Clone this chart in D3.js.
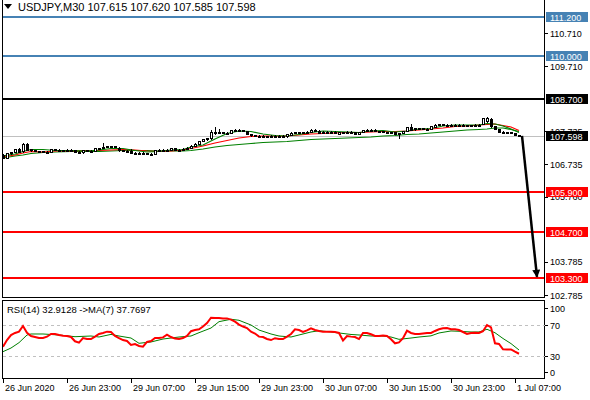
<!DOCTYPE html>
<html>
<head>
<meta charset="utf-8">
<script src="https://cdn.jsdelivr.net/npm/d3@7"></script>
<style>
body { margin: 0; background: #fff; }
text { font-family: "Liberation Sans", Arial, sans-serif; font-size: 9px; fill: #000; }
</style>
</head>
<body>
<div id="chart"></div>
<script>
// Data
var title = "USDJPY,M30  107.615 107.620 107.585 107.598";

// one M30 bar per entry: [open, high, low, close]
var candles = [
  [107.020,107.035,106.930,106.944],[106.935,107.090,106.925,107.080],[107.075,107.120,107.060,107.110],[107.110,107.210,107.100,107.201],
  [107.190,107.231,107.115,107.125],[107.130,107.383,107.120,107.352],[107.352,107.370,107.180,107.186],[107.190,107.205,107.150,107.156],
  [107.160,107.175,107.130,107.141],[107.141,107.155,107.115,107.125],[107.130,107.145,107.100,107.110],[107.115,107.130,107.100,107.105],
  [107.110,107.205,107.100,107.201],[107.195,107.205,107.160,107.171],[107.175,107.195,107.145,107.156],[107.160,107.185,107.150,107.171],
  [107.160,107.200,107.150,107.186],[107.186,107.200,107.150,107.156],[107.160,107.175,107.100,107.110],[107.115,107.130,107.095,107.105],
  [107.105,107.180,107.095,107.171],[107.171,107.185,107.135,107.141],[107.145,107.160,107.130,107.141],[107.141,107.240,107.130,107.231],
  [107.200,107.245,107.190,107.231],[107.231,107.383,107.220,107.262],[107.262,107.300,107.250,107.292],[107.292,107.305,107.265,107.277],
  [107.277,107.290,107.250,107.262],[107.240,107.250,107.150,107.156],[107.160,107.175,107.130,107.141],[107.145,107.165,107.130,107.141],
  [107.145,107.201,107.070,107.080],[107.090,107.110,107.060,107.075],[107.080,107.100,107.060,107.070],[107.070,107.100,107.055,107.090],
  [107.085,107.095,107.040,107.050],[107.055,107.070,107.035,107.045],[107.060,107.180,107.050,107.171],[107.171,107.195,107.160,107.186],
  [107.186,107.200,107.150,107.156],[107.160,107.195,107.150,107.186],[107.175,107.240,107.165,107.231],[107.225,107.240,107.160,107.171],
  [107.171,107.195,107.160,107.186],[107.180,107.225,107.170,107.216],[107.210,107.255,107.200,107.246],[107.240,107.315,107.230,107.307],
  [107.300,107.375,107.290,107.367],[107.360,107.450,107.350,107.443],[107.440,107.515,107.430,107.504],[107.500,107.545,107.480,107.534],
  [107.530,107.776,107.500,107.715],[107.715,107.867,107.670,107.685],[107.690,107.806,107.680,107.715],[107.715,107.730,107.675,107.685],
  [107.685,107.715,107.670,107.700],[107.700,107.790,107.690,107.776],[107.776,107.800,107.765,107.791],[107.791,107.805,107.750,107.761],
  [107.761,107.775,107.735,107.746],[107.746,107.760,107.640,107.655],[107.655,107.670,107.600,107.610],[107.615,107.630,107.585,107.595],
  [107.595,107.615,107.580,107.600],[107.600,107.615,107.575,107.590],[107.590,107.605,107.550,107.564],[107.564,107.610,107.555,107.595],
  [107.595,107.610,107.575,107.590],[107.590,107.610,107.575,107.600],[107.600,107.615,107.565,107.579],[107.585,107.650,107.575,107.640],
  [107.635,107.710,107.625,107.700],[107.690,107.725,107.680,107.715],[107.715,107.730,107.690,107.700],[107.700,107.720,107.685,107.705],
  [107.705,107.740,107.695,107.730],[107.720,107.800,107.710,107.791],[107.785,107.800,107.735,107.746],[107.760,107.775,107.690,107.700],
  [107.705,107.740,107.695,107.730],[107.730,107.745,107.690,107.700],[107.705,107.740,107.695,107.730],[107.730,107.745,107.715,107.725],
  [107.670,107.725,107.660,107.715],[107.715,107.730,107.700,107.710],[107.710,107.740,107.700,107.730],[107.730,107.740,107.705,107.715],
  [107.715,107.730,107.645,107.655],[107.660,107.725,107.650,107.715],[107.715,107.790,107.705,107.776],[107.776,107.800,107.765,107.791],
  [107.791,107.805,107.775,107.785],[107.780,107.795,107.735,107.746],[107.746,107.760,107.730,107.740],[107.740,107.755,107.705,107.715],
  [107.715,107.730,107.700,107.710],[107.710,107.725,107.695,107.715],[107.715,107.730,107.645,107.655],[107.655,107.695,107.534,107.685],
  [107.685,107.755,107.675,107.746],[107.760,107.880,107.750,107.867],[107.867,107.957,107.780,107.791],[107.800,107.845,107.790,107.836],
  [107.836,107.850,107.820,107.830],[107.830,107.845,107.795,107.806],[107.806,107.835,107.795,107.821],[107.806,107.910,107.795,107.897],
  [107.880,107.955,107.870,107.942],[107.935,107.970,107.925,107.957],[107.957,107.970,107.930,107.942],[107.942,107.955,107.915,107.927],
  [107.927,107.955,107.915,107.942],[107.930,107.955,107.920,107.942],[107.942,107.955,107.915,107.927],[107.927,107.945,107.910,107.925],
  [107.925,107.940,107.885,107.897],[107.897,107.935,107.885,107.927],[107.927,107.945,107.915,107.930],[107.930,107.955,107.920,107.942],
  [107.960,108.135,107.950,108.124],[108.040,108.170,108.030,108.154],[108.109,108.125,107.870,107.882],[107.882,107.895,107.795,107.806],
  [107.806,107.820,107.715,107.730],[107.730,107.745,107.690,107.700],[107.715,107.730,107.690,107.700],[107.700,107.720,107.685,107.705],
  [107.685,107.700,107.615,107.625],[107.615,107.620,107.585,107.598]
];

// moving averages on the price chart, sampled at these bars
var maBars = [0,3,5,7,10,13,17,21,24,27,30,33,36,39,42,45,47,50,53,56,59,62,65,68,71,74,77,80,83,86,89,92,95,98,101,104,107,110,113,116,119,121,123,125,127,129];
var maFast = [106.990,107.050,107.125,107.186,107.186,107.156,107.156,107.141,107.171,107.216,107.216,107.156,107.110,107.125,107.171,107.186,107.262,107.322,107.504,107.670,
  107.746,107.730,107.655,107.610,107.595,107.640,107.700,107.746,107.730,107.715,107.700,107.746,107.761,107.715,107.746,107.806,107.821,107.897,107.927,107.927,
  107.927,107.972,107.957,107.897,107.806,107.700];
var maMid = [106.959,107.020,107.080,107.125,107.110,107.141,107.141,107.156,107.156,107.171,107.186,107.171,107.141,107.125,107.141,107.171,107.216,107.292,107.383,107.458,
  107.534,107.579,107.595,107.595,107.595,107.625,107.655,107.670,107.685,107.700,107.700,107.715,107.730,107.730,107.746,107.776,107.806,107.836,107.882,107.897,
  107.927,107.942,107.957,107.912,107.867,107.761];
var maSlow = [106.929,106.990,107.020,107.065,107.095,107.110,107.125,107.125,107.125,107.141,107.156,107.156,107.156,107.141,107.141,107.141,107.156,107.201,107.262,107.307,
  107.337,107.367,107.398,107.413,107.428,107.458,107.488,107.504,107.519,107.534,107.549,107.564,107.595,107.610,107.640,107.655,107.685,107.715,107.746,107.776,
  107.791,107.806,107.836,107.836,107.791,107.730];

// RSI(14), one value per bar
var rsi = [42,50.6,57,59.7,61.4,68.7,60,55.8,54.5,53.2,
  53.2,54.9,58.4,58.4,57.1,56,55.8,54.5,49,47.2,
  53.2,51.9,51.9,55,58.4,59.7,61.4,61,56,53.2,
  50.6,49.4,44.2,45.5,43,42,48.1,49.4,53.2,53.2,
  54,57.5,54.5,52.5,51.9,53.2,55.8,62,63.5,64.5,
  68,72.6,79.4,79,79,78.5,78.5,77,74.3,70.5,
  68,66.1,61.4,59,55,54.5,52,50.6,53,52,
  51.9,55,58.4,64.5,63.5,61,63,65.7,63.5,62.3,
  61.4,61.4,61.4,61,59.7,50,55.8,55,54.5,51.9,
  59.7,59.7,58,55.8,55.8,56.5,55.8,51.5,46.4,47.5,
  53,62.6,59.7,58.4,58.4,59,59.7,59.7,62.3,64.5,
  65.7,66,64.5,64.5,63.5,61,58.4,59.7,60,59.7,
  62,70,67,46.4,45.5,38.6,38.4,38.4,35.5,32.9];
// MA(7) of RSI: [bar, value]
var rsiMa = [[0,35.6],[2,40.3],[4,47.2],[6,57.1],[7,58.4],[10,58.4],[14,57.1],[18,54.9],[22,55.8],[24,54.5],[27,57.9],[29,55.8],
  [32,53.2],[34,46.4],[37,48.1],[40,51.9],[44,54.5],[47,55.8],[49,60.1],[52,66.1],[54,74.3],[57,77.4],[59,76.1],[60,74],[62,70],
  [64,63.5],[67,58.4],[69,55.8],[72,54.5],[74,57.1],[77,61],[79,62.6],[82,61],[84,59.7],[87,57.8],[89,57.1],[92,55.8],[95,55.8],
  [97,54.5],[99,51.5],[102,53.2],[104,54.5],[107,56],[109,59.7],[112,62.3],[114,61.9],[117,61],[119,61],[121,64.5],[123,60],
  [125,52.6],[127,46],[129,37.77]];

// visible price-scale ticks (two more sit fully under the 108.700 / 104.700 boxes)
var priceTicks = [110.710, 109.710, 107.735, 106.735, 105.760, 103.785, 102.785];
var levels = [
  {price: 111.200, color: "#4682B4", label: "111.200"},
  {price: 110.000, color: "#4682B4", label: "110.000"},
  {price: 108.700, color: "#000000", label: "108.700"},
  {price: 105.900, color: "#FF0000", label: "105.900"},
  {price: 104.700, color: "#FF0000", label: "104.700"},
  {price: 103.300, color: "#FF0000", label: "103.300"}
];
var lastPrice = 107.598;
var arrowTarget = 103.300;
var timeBars = [0,16,32,48,64,80,96,112,128];
var timeLabels = ["26 Jun 2020","26 Jun 23:00","29 Jun 07:00","29 Jun 15:00","29 Jun 23:00","30 Jun 07:00","30 Jun 15:00","30 Jun 23:00","1 Jul 07:00"];
var rsiTicks = [100, 70, 30, 0];
var rsiLevels = [70, 30];

// Sizing
var svgWidth = 590, svgHeight = 400;
var plotLeft = 3, plotRight = 545;
var mainTop = 0, mainBottom = 298;
var rsiTop = 300, rsiBottom = 378;

var svg = d3.select("#chart").append("svg")
  .attr("width", svgWidth)
  .attr("height", svgHeight)
  .style("display", "block");

var x = d3.scaleLinear().domain([0, 129]).range([3, 519]);
var y = d3.scaleLinear().domain([102.785, 110.710]).range([295, 33]);
var yr = d3.scaleLinear().domain([30, 70]).range([356, 325]);
var px = function(v) { return Math.round(v) + 0.5; };

svg.append("clipPath").attr("id", "clipMain")
  .append("rect").attr("x", plotLeft).attr("y", mainTop).attr("width", plotRight - plotLeft).attr("height", mainBottom - mainTop);
svg.append("clipPath").attr("id", "clipRsi")
  .append("rect").attr("x", plotLeft).attr("y", rsiTop).attr("width", plotRight - plotLeft).attr("height", rsiBottom - rsiTop);

var main = svg.append("g").attr("clip-path", "url(#clipMain)");

// bid line
main.append("line")
  .attr("x1", plotLeft).attr("x2", plotRight)
  .attr("y1", px(y(lastPrice))).attr("y2", px(y(lastPrice)))
  .attr("stroke", "#c0c0c0").attr("stroke-width", 1);

// horizontal levels
main.selectAll(".level").data(levels).enter().append("line")
  .attr("x1", plotLeft).attr("x2", plotRight)
  .attr("y1", d => Math.round(y(d.price))).attr("y2", d => Math.round(y(d.price)))
  .attr("stroke", d => d.color).attr("stroke-width", 2);

// moving averages
function maLine(vals) {
  return d3.line().curve(d3.curveLinear)
    .x((d, i) => x(maBars[i]))
    .y(d => y(d))(vals);
}
main.append("path").attr("d", maLine(maSlow)).attr("fill", "none").attr("stroke", "#008000").attr("stroke-width", 1.2);
main.append("path").attr("d", maLine(maMid)).attr("fill", "none").attr("stroke", "#FF0000").attr("stroke-width", 1.2);
main.append("path").attr("d", maLine(maFast)).attr("fill", "none").attr("stroke", "#008000").attr("stroke-width", 1.2);

// candles
var cg = main.append("g").attr("shape-rendering", "crispEdges");
cg.selectAll(".wick").data(candles).enter().append("line")
  .attr("x1", (d, i) => px(x(i))).attr("x2", (d, i) => px(x(i)))
  .attr("y1", d => Math.round(y(d[1]))).attr("y2", d => Math.round(y(d[2])) + 1)
  .attr("stroke", "#000");
cg.selectAll(".body").data(candles).enter().append("rect")
  .attr("x", (d, i) => Math.round(x(i)) - 0.5)
  .attr("y", d => Math.round(y(Math.max(d[0], d[3]))) + 0.5)
  .attr("width", 2)
  .attr("height", d => Math.max(1, Math.round(y(Math.min(d[0], d[3]))) - Math.round(y(Math.max(d[0], d[3])))))
  .attr("fill", d => d[3] >= d[0] ? "#fff" : "#000")
  .attr("stroke", "#000");

// arrow
var defs = svg.append("defs");
defs.append("marker").attr("id", "head")
  .attr("viewBox", "0 0 10 10").attr("refX", 9).attr("refY", 5)
  .attr("markerWidth", 3.4).attr("markerHeight", 3.2).attr("orient", "auto")
  .append("path").attr("d", "M0,0 L10,5 L0,10 Z").attr("fill", "#000");
svg.append("line")
  .attr("x1", x(129) + 3).attr("y1", y(lastPrice))
  .attr("x2", x(129) + 18).attr("y2", y(arrowTarget) - 1)
  .attr("stroke", "#000").attr("stroke-width", 2.5)
  .attr("marker-end", "url(#head)");

// frames
svg.append("rect").attr("x", plotLeft - 0.5).attr("y", mainTop - 1.5)
  .attr("width", plotRight - plotLeft).attr("height", mainBottom - mainTop + 1)
  .attr("fill", "none").attr("stroke", "#000");
svg.append("rect").attr("x", plotLeft - 0.5).attr("y", rsiTop + 0.5)
  .attr("width", plotRight - plotLeft).attr("height", rsiBottom - rsiTop)
  .attr("fill", "none").attr("stroke", "#000");

// title
svg.append("path").attr("d", "M4,4 L12,4 L8,9 Z").attr("fill", "#000");
svg.append("text").attr("x", 18).attr("y", 11)
  .style("font-size", "11px")
  .text(title);

// price axis
var pa = svg.append("g");
pa.selectAll("line").data(priceTicks).enter().append("line")
  .attr("x1", plotRight).attr("x2", plotRight + 3)
  .attr("y1", d => px(y(d))).attr("y2", d => px(y(d)))
  .attr("stroke", "#000");
pa.selectAll("text").data(priceTicks).enter().append("text")
  .attr("x", plotRight + 5).attr("y", d => y(d) + 3.5)
  .text(d => d3.format(".3f")(d));

// level labels
var lab = svg.append("g").selectAll("g").data(levels.concat([{price: lastPrice, color: "#000000", label: "107.598"}]))
  .enter().append("g");
lab.append("rect")
  .attr("x", plotRight + 1).attr("y", d => Math.round(y(d.price)) - 5)
  .attr("width", 42).attr("height", 10)
  .attr("fill", d => d.color);
lab.append("text")
  .attr("x", plotRight + 5).attr("y", d => Math.round(y(d.price)) + 3.5)
  .style("fill", "#fff")
  .text(d => d.label);

// RSI window
var rg = svg.append("g").attr("clip-path", "url(#clipRsi)");
rg.selectAll(".lvl").data(rsiLevels).enter().append("line")
  .attr("x1", plotLeft).attr("x2", plotRight)
  .attr("y1", d => px(yr(d))).attr("y2", d => px(yr(d)))
  .attr("stroke", "#c0c0c0").attr("stroke-dasharray", "3,3");
rg.append("path")
  .attr("d", d3.line().x(d => x(d[0])).y(d => yr(d[1]))(rsiMa))
  .attr("fill", "none").attr("stroke", "#008000").attr("stroke-width", 1);
rg.append("path")
  .attr("d", d3.line().x((d, i) => x(i)).y(d => yr(d))(rsi))
  .attr("fill", "none").attr("stroke", "#FF0000").attr("stroke-width", 2);

svg.append("text").attr("x", 7).attr("y", 313)
  .style("font-size", "9.5px")
  .text("RSI(14) 32.9128  ->MA(7) 37.7697");

var ra = svg.append("g");
ra.selectAll("line").data(rsiTicks).enter().append("line")
  .attr("x1", plotRight).attr("x2", plotRight + 3)
  .attr("y1", d => px(Math.min(Math.max(yr(d), 308), 372))).attr("y2", d => px(Math.min(Math.max(yr(d), 308), 372)))
  .attr("stroke", "#000");
ra.selectAll("text").data(rsiTicks).enter().append("text")
  .attr("x", plotRight + 5)
  .attr("y", d => Math.min(Math.max(yr(d), 308), 372) + 3.5)
  .text(d => d);

// time axis
var ta = svg.append("g");
ta.selectAll("line").data(timeBars).enter().append("line")
  .attr("x1", d => px(x(d))).attr("x2", d => px(x(d)))
  .attr("y1", rsiBottom + 1).attr("y2", rsiBottom + 5)
  .attr("stroke", "#000");
ta.selectAll("text").data(timeBars).enter().append("text")
  .attr("x", d => x(d) + 2).attr("y", 391)
  .text((d, i) => timeLabels[i]);
</script>
</body>
</html>
